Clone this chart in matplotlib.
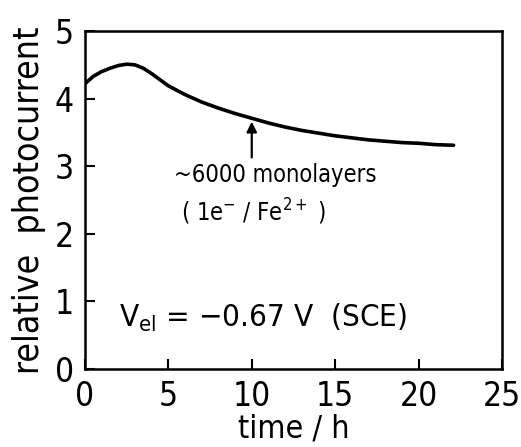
import numpy as np
import matplotlib.pyplot as plt

# photocurrent vs time
time_h = [0.0, 0.5, 1.0, 1.5, 2.0, 2.5, 3.0, 3.5, 4.0, 4.5, 5.0, 6.0, 7.0, 8.0, 9.0,
          10.0, 11.0, 12.0, 13.0, 14.0, 15.0, 16.0, 17.0, 18.0, 19.0, 20.0, 21.0, 22.1]
current = [4.22, 4.33, 4.40, 4.45, 4.49, 4.51, 4.50, 4.45, 4.37, 4.28, 4.19, 4.06, 3.95, 3.86, 3.78,
           3.71, 3.64, 3.58, 3.53, 3.49, 3.45, 3.42, 3.39, 3.37, 3.35, 3.34, 3.32, 3.31]

x_ticks = [0, 5, 10, 15, 20, 25]
y_ticks = [0, 1, 2, 3, 4, 5]

plt.rcParams['font.family'] = 'DejaVu Sans'
plt.rcParams['font.stretch'] = 'condensed'

fig = plt.figure(figsize=(5.21, 4.47), dpi=100)
ax = fig.add_axes([0.163, 0.1745, 0.8005, 0.756])

ax.plot(time_h, current, color='black', linewidth=2.6, solid_capstyle='round')

# arrow marking ~6000 monolayers
ax.annotate('', xy=(10.0, 3.66), xytext=(10.0, 3.13),
            arrowprops=dict(arrowstyle='-|>', color='black', lw=1.6,
                            mutation_scale=15, shrinkA=0, shrinkB=0))
ax.text(11.4, 2.87, '~6000 monolayers', ha='center', va='center', fontsize=17)
ax.text(10.1, 2.33, r'( 1e$^{-}$ / Fe$^{2+}$ )', ha='center', va='center', fontsize=17)
ax.text(10.7, 0.75, r'V$_{\rm el}$ = $-$0.67 V  (SCE)', ha='center', va='center', fontsize=22.5)

ax.set_xlim(0, 25)
ax.set_ylim(0, 5)
ax.set_xticks(x_ticks)
ax.set_yticks(y_ticks)
ax.tick_params(direction='in', length=7, width=1.5, labelsize=24, pad=8)
for s in ax.spines.values():
    s.set_linewidth(1.8)

ax.set_xlabel('time / h', fontsize=23, labelpad=0)
ax.set_ylabel('relative  photocurrent', fontsize=25.5, labelpad=6)

fig.savefig('out.png', dpi=100)
